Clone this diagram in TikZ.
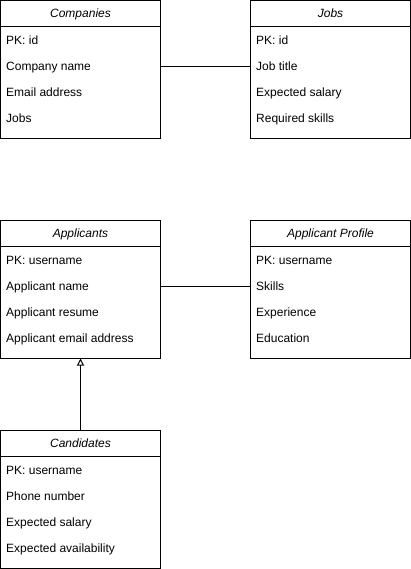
\documentclass[tikz,border=0pt]{standalone}
\usepackage{fontspec}
\setmainfont{Liberation Sans}
\usetikzlibrary{arrows.meta}
\begin{document}
\begin{tikzpicture}[x=1pt,y=-1pt,
  classbox/.style={draw=black,line width=1pt,fill=white,minimum width=160pt,minimum height=138pt,anchor=north west,inner sep=0pt,outer sep=0pt},
  hdr/.style={font=\fontsize{12pt}{14pt}\selectfont\itshape,anchor=base,inner sep=0pt},
  item/.style={font=\fontsize{12pt}{14pt}\selectfont,anchor=base west,inner sep=0pt},
  conn/.style={draw=black,line width=1pt}]
\useasboundingbox (0,0) rectangle (411,569);
% Companies
\node[classbox] (comp) at (0.5,0.5) {};
\draw[conn] (0.5,26.5) -- (160.5,26.5);
\node[hdr] (comph) at (80.5,17.6) {Companies};
\node[item] (comp1) at (6,44.3) {PK: id};
\node[item] (comp2) at (6,70.3) {Company name};
\node[item] (comp3) at (6,96.3) {Email address};
\node[item] (comp4) at (6,122.3) {Jobs};
% Jobs
\node[classbox] (jobs) at (250.5,0.5) {};
\draw[conn] (250.5,26.5) -- (410.5,26.5);
\node[hdr] (jobsh) at (330.5,17.6) {Jobs};
\node[item] (jobs1) at (256,44.3) {PK: id};
\node[item] (jobs2) at (256,70.3) {Job title};
\node[item] (jobs3) at (256,96.3) {Expected salary};
\node[item] (jobs4) at (256,122.3) {Required skills};
% Applicants
\node[classbox] (appl) at (0.5,220.5) {};
\draw[conn] (0.5,246.5) -- (160.5,246.5);
\node[hdr] (applh) at (80.5,237.6) {Applicants};
\node[item] (appl1) at (6,264.3) {PK: username};
\node[item] (appl2) at (6,290.3) {Applicant name};
\node[item] (appl3) at (6,316.3) {Applicant resume};
\node[item] (appl4) at (6,342.3) {Applicant email address};
% Applicant Profile
\node[classbox] (prof) at (250.5,220.5) {};
\draw[conn] (250.5,246.5) -- (410.5,246.5);
\node[hdr] (profh) at (330.5,237.6) {Applicant Profile};
\node[item] (prof1) at (256,264.3) {PK: username};
\node[item] (prof2) at (256,290.3) {Skills};
\node[item] (prof3) at (256,316.3) {Experience};
\node[item] (prof4) at (256,342.3) {Education};
% Candidates
\node[classbox] (cand) at (0.5,430.5) {};
\draw[conn] (0.5,456.5) -- (160.5,456.5);
\node[hdr] (candh) at (80.5,447.6) {Candidates};
\node[item] (cand1) at (6,474.3) {PK: username};
\node[item] (cand2) at (6,500.3) {Phone number};
\node[item] (cand3) at (6,526.3) {Expected salary};
\node[item] (cand4) at (6,552.3) {Expected availability};
% connectors
\coordinate (l1) at (0,66.5);
\coordinate (l2) at (0,286.5);
\draw[conn] (comp.east |- l1) -- (jobs.west |- l1);
\draw[conn] (appl.east |- l2) -- (prof.west |- l2);
\draw[conn,-{Triangle[open,length=7pt,width=7pt,line width=1pt]}] (cand.north) -- (appl.south);
\end{tikzpicture}
\end{document}
